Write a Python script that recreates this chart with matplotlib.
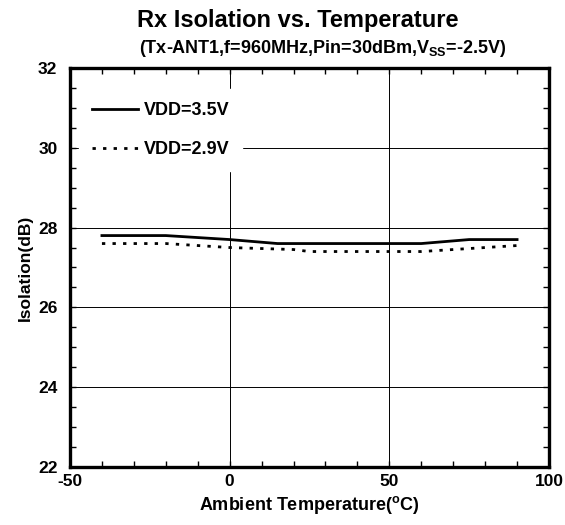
import matplotlib
matplotlib.use("Agg")
import matplotlib.pyplot as plt
from matplotlib.ticker import MultipleLocator

plt.rcParams["font.family"] = ["Liberation Sans", "DejaVu Sans"]
plt.rcParams["font.weight"] = "bold"
plt.rcParams["mathtext.default"] = "regular"

# data
temp_35 = [-40, -20, 0, 15, 30, 50, 60, 75, 90]
iso_35 = [27.8, 27.8, 27.7, 27.6, 27.6, 27.6, 27.6, 27.7, 27.7]
temp_29 = [-40, -20, -10, 0, 20, 25, 60, 80, 90]
iso_29 = [27.6, 27.6, 27.55, 27.5, 27.45, 27.4, 27.4, 27.5, 27.55]

fig = plt.figure(figsize=(5.65, 5.25), dpi=100)
ax = fig.add_axes([0.1239, 0.1105, 0.8478, 0.76])

ax.plot(temp_35, iso_35, color="black", lw=2.0, label="VDD=3.5V")
ax.plot(temp_29, iso_29, color="black", lw=2.0, ls=(0, (1.2, 2.6)),
        label="VDD=2.9V")

ax.set_xlim(-50, 100)
ax.set_ylim(22, 32)
ax.xaxis.set_minor_locator(MultipleLocator(10))
ax.yaxis.set_minor_locator(MultipleLocator(0.5))
ax.set_xticks([-50, 0, 50, 100])
ax.set_xticklabels(["-50", "0", "50", "100"])
ax.set_yticks([22, 24, 26, 28, 30, 32])
ax.set_yticklabels(["22", "24", "26", "28", "30", "32"])
ax.grid(True, which="major", color="black", lw=0.7)
ax.tick_params(which="both", direction="in", top=True, right=True,
               labelsize=12.5, width=1.0)
ax.tick_params(axis="x", which="major", length=4.5, pad=5)
ax.tick_params(axis="y", which="major", length=4.5, pad=9)
ax.tick_params(which="minor", length=4.5)
for sp in ax.spines.values():
    sp.set_linewidth(2.4)

ax.set_xlabel("Ambient Temperature($^{o}$C)", fontsize=13, fontweight="bold",
              labelpad=4)
ax.set_ylabel("Isolation(dB)", fontsize=12.5, fontweight="bold", labelpad=4)

leg = ax.legend(loc="upper left", bbox_to_anchor=(0.019, 0.9465), frameon=True,
                fontsize=13, handlelength=2.55, handletextpad=0.33,
                labelspacing=1.23, borderaxespad=0, borderpad=0.7)
leg.get_frame().set_edgecolor("white")
leg.get_frame().set_facecolor("white")
leg.get_frame().set_alpha(1)
leg.get_frame().set_boxstyle("square", pad=0)
for t in leg.get_texts():
    t.set_fontweight("bold")

fig.text(0.527, 0.9486, "Rx Isolation vs. Temperature", ha="center",
         va="baseline", fontsize=17, fontweight="bold")
fig.text(0.57, 0.899, "(Tx-ANT1,f=960MHz,Pin=30dBm,V$_{SS}$=-2.5V)",
         ha="center", va="baseline", fontsize=13, fontweight="bold")

fig.savefig("out.png", dpi=100)
